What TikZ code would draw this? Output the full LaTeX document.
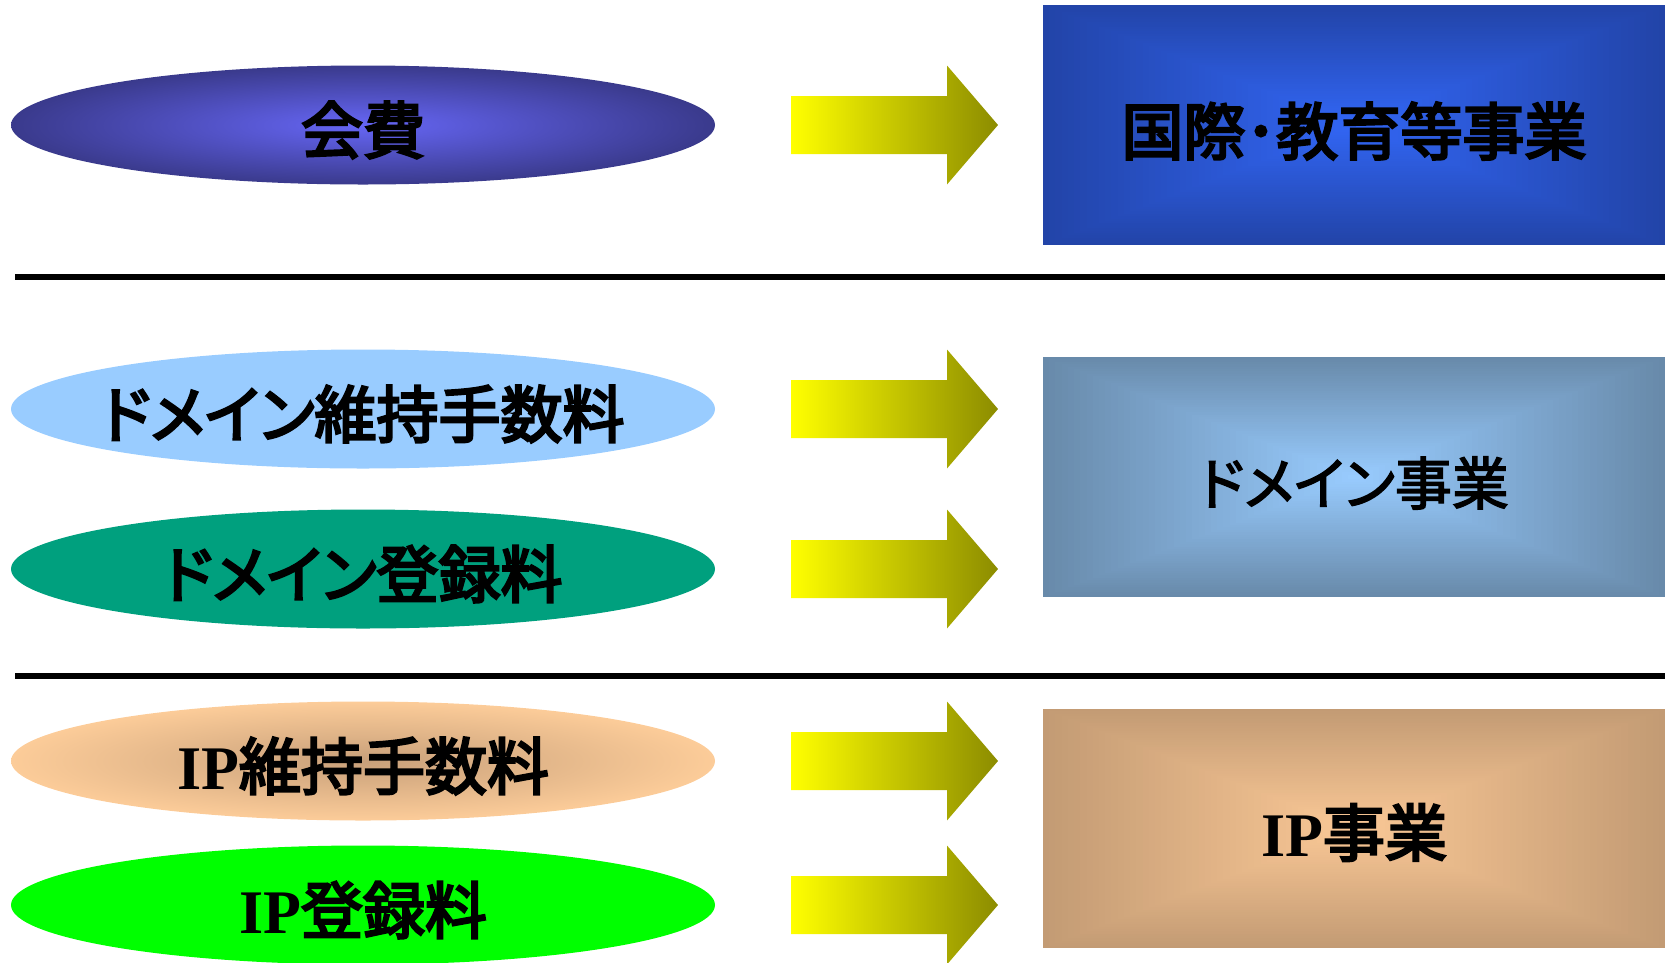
\documentclass[tikz,border=0pt]{standalone}
\usepackage{fontspec}
\usepackage{xcolor}
\setmainfont{Liberation Serif}
\newfontfamily\jp{Noto Sans CJK JP}[FakeBold=4]
\newfontfamily\jpk{Noto Sans CJK JP}[RawFeature=+palt, FakeBold=4]
\newfontfamily\jpthin{Noto Sans CJK JP}[FakeBold=2.5]
\newfontfamily\jpthink{Noto Sans CJK JP}[RawFeature=+palt, FakeBold=2.5]
\newcommand{\ip}{{\rmfamily\bfseries IP}}
\usetikzlibrary{shapes.geometric}

\definecolor{feeblue}{RGB}{102,102,245}
\definecolor{feeblueedge}{RGB}{58,58,140}
\definecolor{domlight}{RGB}{153,204,255}
\definecolor{domteal}{RGB}{0,160,126}
\definecolor{ipcenter}{RGB}{200,160,122}
\definecolor{ippeach}{RGB}{252,204,153}
\definecolor{ipgreen}{RGB}{0,255,0}
\definecolor{arrowolive}{RGB}{140,140,0}
\definecolor{eduin}{RGB}{50,102,245}
\definecolor{eduout}{RGB}{34,68,168}
\definecolor{domin}{RGB}{153,204,255}
\definecolor{domout}{RGB}{104,138,170}
\definecolor{ipin}{RGB}{250,200,150}
\definecolor{ipout}{RGB}{195,155,116}

% rectangular gradient from the centre: node, half width, half height, inner, outer
\newcommand{\boxshade}[5]{%
  \begin{scope}[shift={(#1.center)}]
    \foreach \i in {0,...,50}{
      \pgfmathsetmacro{\f}{1-\i/50}
      \pgfmathtruncatemacro{\m}{2*\i}
      \fill[#4!\m!#5] (-#2*\f,-#3*\f) rectangle (#2*\f,#3*\f);
    }
  \end{scope}}

\begin{document}
\begin{tikzpicture}[x=1pt, y=-1pt,
    fee/.style={ellipse, minimum width=704pt, minimum height=119pt, inner sep=0pt},
    biz/.style={rectangle, minimum width=622pt, minimum height=240pt, inner sep=0pt},
    txt/.style={font=\jp\fontsize{62}{70}\selectfont, inner sep=0pt},
    arr/.style={left color=yellow, right color=arrowolive},
    sep/.style={line width=6.5pt}
]
    \useasboundingbox (0,0) rectangle (1665,962);
    \clip (0,0) rectangle (1665,962);

    % Fees (left)
    \node[fee, inner color=feeblue, outer color=feeblueedge] (kaihi) at (363,125) {};
    \node[fee, fill=domlight] (domiji) at (363,409) {};
    \node[fee, fill=domteal] (domtouroku) at (363,569) {};
    \node[fee, inner color=ipcenter, outer color=ippeach] (ipiji) at (363,761) {};
    \node[fee, fill=ipgreen] (iptouroku) at (363,905) {};

    \node[txt, yshift=-5pt] at (kaihi) {会費};
    \node[txt, yshift=-5pt] at (domiji) {{\jpk ドメイン}維持手数料};
    \node[txt, yshift=-5pt] at (domtouroku) {{\jpk ドメイン}登録料};
    \node[txt, yshift=-5pt] at (ipiji) {\ip 維持手数料};
    \node[txt, yshift=-5pt] at (iptouroku) {\ip 登録料};

    % Arrows
    \foreach \y in {125, 409, 569, 761, 905}
        \shade[arr] (791,\y-29) -- (947,\y-29) -- (947,\y-59.5) -- (998,\y)
            -- (947,\y+59.5) -- (947,\y+29) -- (791,\y+29) -- cycle;

    % Projects (right)
    \node[biz, fill=eduout] (kyouiku) at (1354,125) {};
    \node[biz, fill=domout] (domjigyou) at (1354,477) {};
    \node[biz, minimum height=239pt, fill=ipout] (ipjigyou) at (1354,828.5) {};
    \boxshade{kyouiku}{311}{120}{eduin}{eduout}
    \boxshade{domjigyou}{311}{120}{domin}{domout}
    \boxshade{ipjigyou}{311}{119.5}{ipin}{ipout}

    \node[txt, yshift=-6pt] at (kyouiku) {国際･教育等事業};
    \node[txt, font=\jpthin\fontsize{57}{66}\selectfont, yshift=-6pt] at (domjigyou) {{\jpthink ドメイン}事業};
    \node[txt, yshift=-4pt] at (ipjigyou) {\ip 事業};

    % Separators
    \coordinate (s1a) at (15,277);
    \coordinate (s1b) at (1665,277);
    \coordinate (s2a) at (15,676);
    \coordinate (s2b) at (1665,676);
    \draw[sep] (s1a) -- (s1b);
    \draw[sep] (s2a) -- (s2b);
\end{tikzpicture}
\end{document}
